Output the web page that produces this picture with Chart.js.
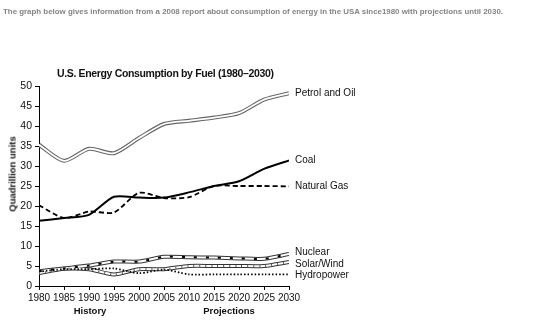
<!DOCTYPE html>
<html>
<head>
<meta charset="utf-8">
<script src="https://cdn.jsdelivr.net/npm/chart.js@4"></script>
<style>
  body { margin: 0; background: #fff; font-family: "Liberation Sans", Arial, sans-serif; }
  #wrap { position: relative; width: 558px; height: 324px; overflow: hidden; }
  #chart { position: absolute; left: 0; top: 0; }
  .txt { position: absolute; white-space: nowrap; color: #111; }
  #intro { left: 3px; top: 7px; font-size: 7.9px; font-weight: bold; color: #858585; }
  #title { left: 57px; top: 67px; font-size: 10.5px; font-weight: bold; letter-spacing: -0.35px; }
  #ytitle { left: 12px; top: 174px; font-size: 9.5px; font-weight: bold; transform: translate(-50%, -50%) rotate(-90deg); }
  #hist { left: 90px; top: 310px; font-size: 9.5px; font-weight: bold; transform: translate(-50%, -50%); }
  #proj { left: 229px; top: 310px; font-size: 9.5px; font-weight: bold; transform: translate(-50%, -50%); }
</style>
</head>
<body>
<div id="wrap">
  <canvas id="chart" width="558" height="324"></canvas>
  <div class="txt" id="intro">The graph below gives information from a 2008 report about consumption of energy in the USA since1980 with projections until 2030.</div>
  <div class="txt" id="title">U.S. Energy Consumption by Fuel (1980–2030)</div>
  <div class="txt" id="ytitle">Quadrillion units</div>
  <div class="txt" id="hist">History</div>
  <div class="txt" id="proj">Projections</div>
</div>
<script>
// values, every 5 years
const years = [1980, 1985, 1990, 1995, 2000, 2005, 2010, 2015, 2020, 2025, 2030];
const petrol = [35.3, 31.3, 34.3, 33.2, 37, 40.5, 41.3, 42.1, 43.2, 46.6, 48.2];
const coal = [16.3, 17, 17.8, 22.3, 22.1, 22.1, 23.4, 25, 26.2, 29.3, 31.4];
const gas = [20.2, 17, 18.6, 18.4, 23.3, 22, 22.2, 25, 25, 25, 24.9];
const nuclear = [3.7, 4.4, 5.1, 6.1, 6.1, 7.3, 7.2, 7.1, 6.9, 6.8, 8];
const solar = [3.2, 4.3, 4.2, 2.9, 4.2, 4.2, 5, 5, 5, 5, 6];
const hydro = [3.6, 4.2, 4.2, 4.4, 3.2, 4.1, 2.9, 2.9, 2.9, 2.9, 2.9];
const yTicks = [0, 5, 10, 15, 20, 25, 30, 35, 40, 45, 50];

function pts(vals) {
  return years.map((y, i) => ({ x: y, y: vals[i] }));
}

function line(vals, color, width, dash, order, label, nudge) {
  return {
    label: label || '',
    nudge: nudge || 0,
    data: pts(vals),
    borderColor: color,
    borderWidth: width,
    borderDash: dash || [],
    pointRadius: 0,
    tension: 0.25,
    fill: false,
    order: order
  };
}

const datasets = [
  line(petrol, '#666', 4, null, 3, 'Petrol and Oil'),
  line(petrol, '#fff', 1.8, null, 2),
  line(coal, '#000', 2, null, 1, 'Coal'),
  line(gas, '#000', 1.8, [5, 3], 1, 'Natural Gas'),
  line(nuclear, '#333', 4, null, 3, 'Nuclear', -2),
  line(nuclear, '#fff', 2, null, 2),
  line(nuclear, '#000', 2, [3, 9], 1),
  line(solar, '#333', 4, null, 3, 'Solar/Wind', 2),
  line(solar, '#fff', 2, null, 2),
  line(solar, '#555', 2, [1, 5], 1),
  line(hydro, '#000', 1.8, [1.5, 2], 1, 'Hydropower', 1)
];

// series names written next to the last point of each line
const endLabels = {
  id: 'endLabels',
  afterDatasetsDraw(chart) {
    const ctx = chart.ctx;
    const xs = chart.scales.x, ys = chart.scales.y;
    ctx.save();
    ctx.font = '10px "Liberation Sans", Arial, sans-serif';
    ctx.fillStyle = '#111';
    ctx.textBaseline = 'middle';
    chart.data.datasets.forEach(ds => {
      if (!ds.label) return;
      const last = ds.data[ds.data.length - 1];
      ctx.fillText(ds.label, xs.getPixelForValue(last.x) + 6, ys.getPixelForValue(last.y) + ds.nudge);
    });
    ctx.restore();
  }
};

new Chart(document.getElementById('chart'), {
  type: 'line',
  data: { datasets: datasets },
  options: {
    responsive: false,
    animation: false,
    layout: { padding: { left: 0, right: 269, top: 86, bottom: 18 } },
    plugins: { legend: { display: false }, tooltip: { enabled: false } },
    scales: {
      x: {
        type: 'linear',
        min: 1980, max: 2030,
        afterBuildTicks(s) { s.ticks = years.map(v => ({ value: v })); },
        afterFit(s) { s.height = 20; },
        ticks: {
          color: '#111', padding: 2, maxRotation: 0, autoSkip: false,
          font: { family: '"Liberation Sans", Arial, sans-serif', size: 10 },
          callback: v => String(v)
        },
        grid: { drawOnChartArea: false, color: '#000', tickLength: 4, tickWidth: 1 },
        border: { color: '#000', width: 1 }
      },
      y: {
        min: 0, max: 50,
        afterBuildTicks(s) { s.ticks = yTicks.map(v => ({ value: v })); },
        afterFit(s) { s.width = 39; },
        ticks: {
          color: '#111', padding: 3,
          font: { family: '"Liberation Sans", Arial, sans-serif', size: 10.5 }
        },
        grid: { drawOnChartArea: false, color: '#000', tickLength: 4, tickWidth: 1 },
        border: { color: '#000', width: 1 }
      }
    }
  },
  plugins: [endLabels]
});
</script>
</body>
</html>
